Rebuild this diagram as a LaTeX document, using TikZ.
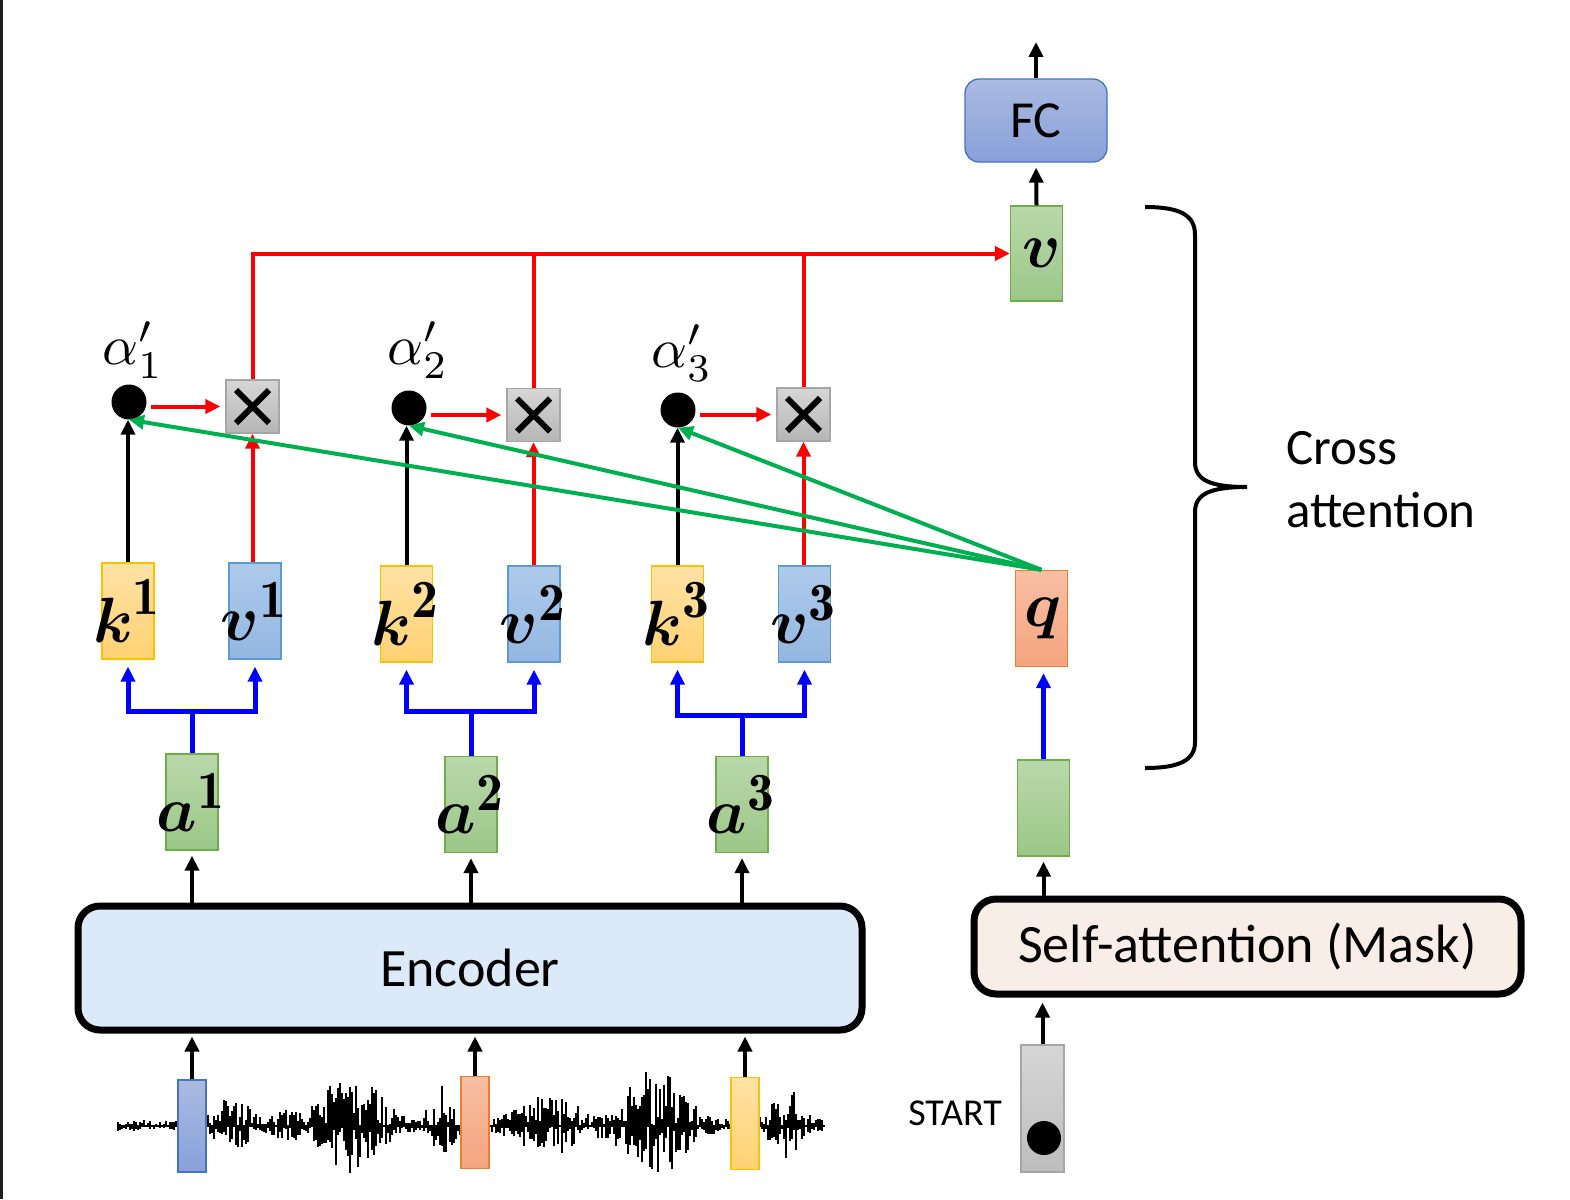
\documentclass[tikz,border=0pt]{standalone}
\usepackage{amsmath}
\usepackage{graphicx}
\usepackage{fontspec}
\newfontfamily\carl{Carlito}
\usetikzlibrary{arrows.meta,calc}
\definecolor{kTop}{HTML}{FFE2A6}\definecolor{kBot}{HTML}{FFD272}\definecolor{kBrd}{HTML}{FFC000}
\definecolor{vTop}{HTML}{AECAEB}\definecolor{vBot}{HTML}{93B7E2}\definecolor{vBrd}{HTML}{5B9BD5}
\definecolor{gTop}{HTML}{B9D8AA}\definecolor{gBot}{HTML}{9CC788}\definecolor{gBrd}{HTML}{70AD47}
\definecolor{qTop}{HTML}{F8BFA3}\definecolor{qBot}{HTML}{F4A47F}\definecolor{qBrd}{HTML}{ED7D31}
\definecolor{xTop}{HTML}{D6D6D6}\definecolor{xBot}{HTML}{B6B6B6}\definecolor{xBrd}{HTML}{A6A6A6}
\definecolor{fTop}{HTML}{AABAE2}\definecolor{fBot}{HTML}{89A0D8}\definecolor{fBrd}{HTML}{4472C4}
\definecolor{encFill}{HTML}{DCE9F8}\definecolor{saFill}{HTML}{F8EDE7}
\definecolor{grn}{HTML}{00B050}\definecolor{rd}{HTML}{FF0000}\definecolor{bl}{HTML}{0000FF}
\newcommand\mlab[2]{\makebox[0pt]{\scalebox{6.4}{$\boldsymbol{#1}^{\scalebox{1.2}{$\scriptstyle\mathbf{#2}$}}$}}}
\newcommand\alab[1]{\scalebox{5.6}{$\alpha'_{#1}$}}
\begin{document}
\begin{tikzpicture}[x=1pt,y=-1pt,
  declare function={gs(\t,\c,\w)=exp(-min(((\t-\c)/\w)*((\t-\c)/\w),40));},
  >={Triangle[length=15pt,width=14pt]},
  vec/.style={rectangle,draw,line width=1.3pt,inner sep=0pt,minimum width=52pt,minimum height=96pt},
  kbox/.style={vec,draw=kBrd,top color=kTop,bottom color=kBot},
  vbox/.style={vec,draw=vBrd,top color=vTop,bottom color=vBot},
  gbox/.style={vec,draw=gBrd,top color=gTop,bottom color=gBot},
  qbox/.style={vec,draw=qBrd,top color=qTop,bottom color=qBot},
  xbox/.style={rectangle,draw=xBrd,line width=1.3pt,top color=xTop,bottom color=xBot,minimum size=53pt,inner sep=0pt,
     path picture={\draw[line width=6pt,black]
        ([shift={(10pt,-10pt)}]path picture bounding box.north west) -- ([shift={(-10pt,10pt)}]path picture bounding box.south east)
        ([shift={(-10pt,-10pt)}]path picture bounding box.north east) -- ([shift={(10pt,10pt)}]path picture bounding box.south west);}},
  dotn/.style={circle,fill=black,minimum size=35pt,inner sep=0pt},
  alabn/.style={inner sep=0pt},
  bigbox/.style={rectangle,draw=black,line width=7pt,rounded corners=22pt,inner sep=0pt,font=\carl\fontsize{54}{60}\selectfont},
  barn/.style={rectangle,line width=1.3pt,inner sep=0pt,minimum width=28pt,minimum height=92pt},
  blk/.style={->,line width=4pt,black},
  rdar/.style={->,line width=4pt,rd},
  rdl/.style={line width=4pt,rd},
  blar/.style={->,line width=5pt,bl},
  grar/.style={->,line width=4pt,grn}]
\useasboundingbox (0,0) rectangle (1570,1199);
\fill[white] (0,0) rectangle (1570,1199);
\fill[black!88] (0,0) rectangle (3,1199);

% waveform
\pgfmathsetseed{11}
\draw[line width=2.5pt] (117,1126) -- (825,1126);
\foreach \x in {118,120,...,822}{
  \pgfmathsetmacro\env{6+24*gs(\x,232,22)+14*gs(\x,285,14)+54*gs(\x,352,34)+36*gs(\x,443,15)+30*gs(\x,548,34)+56*gs(\x,655,36)+34*gs(\x,786,18)}
  \pgfmathsetmacro\up{\env*rnd}
  \pgfmathsetmacro\dn{\env*rnd*0.85}
  \draw[line width=2pt] (\x,{1126-\up}) -- (\x,{1126+\dn});
}

% input bars
\node[barn,draw=fBrd,top color=fTop,bottom color=fBot] (b1) at (192,1126) {};
\node[barn,draw=qBrd,top color=qTop,bottom color=qBot] (b2) at (475,1122.5) {};
\node[barn,draw=kBrd,top color=kTop,bottom color=kBot] (b3) at (745,1123.5) {};

% encoder and decoder blocks
\node[bigbox,fill=encFill,minimum width=784pt,minimum height=124pt] (enc) at (470,968) {Encoder};
\node[bigbox,fill=saFill,minimum width=547pt,minimum height=95pt] (sa) at (1247.5,946.5) {Self-attention (Mask)};
\node[rectangle,draw=xBrd,line width=1.3pt,top color=xTop,bottom color=xBot!90,minimum width=43pt,minimum height=127pt,inner sep=0pt] (st) at (1042.5,1108.5) {};
\node[dotn,minimum size=34pt] (stdot) at (1044,1138) {};
\node[inner sep=0pt,font=\carl\fontsize{38}{40}\selectfont] (sttxt) at (955,1113) {START};

% encoder outputs
\node[gbox] (a1) at (192,802) {\mlab{a}{1}};
\node[gbox] (a2) at (471,804.5) {\mlab{a}{2}};
\node[gbox] (a3) at (742,804.5) {\mlab{a}{3}};
\node[gbox] (g) at (1043.5,808) {};

% keys, values, query
\node[kbox] (k1) at (128,611) {\mlab{k}{1}};
\node[vbox] (v1) at (255,611) {\mlab{v}{1}};
\node[kbox] (k2) at (406.5,614) {\mlab{k}{2}};
\node[vbox] (v2) at (534,614) {\mlab{v}{2}};
\node[kbox] (k3) at (677.5,614) {\mlab{k}{3}};
\node[vbox] (v3) at (804.5,614) {\mlab{v}{3}};
\node[qbox] (q) at (1041.5,618.5) {\makebox[0pt]{\hspace{4pt}\scalebox{6.4}{$\boldsymbol{q}$}}};

% attention scores
\node[dotn] (d1) at (129,402) {};
\node[dotn] (d2) at (409,408) {};
\node[dotn] (d3) at (678,410) {};
\node[alabn] (l1) at (133,350) {\alab{1}};
\node[alabn] (l2) at (418,350) {\alab{2}};
\node[alabn] (l3) at (682,353) {\alab{3}};
\node[xbox] (x1) at (252.5,406.5) {};
\node[xbox] (x2) at (533.5,415) {};
\node[xbox] (x3) at (803.5,414.5) {};

% output
\node[gbox,minimum height=95pt] (vo) at (1036.5,253.5) {\makebox[0pt]{\hspace{10pt}\scalebox{6.4}{$\boldsymbol{v}$}}};
\node[rectangle,draw=fBrd,line width=1.3pt,top color=fTop,bottom color=fBot,rounded corners=14pt,minimum width=142pt,minimum height=83pt,inner sep=0pt,font=\carl\fontsize{52}{56}\selectfont] (fc) at (1036,120.5) {FC};
\coordinate (out) at (1036,42);

% brace and label
\draw[line width=4pt] (1145,207) .. controls (1180,207) and (1195,215) .. (1195,235) -- (1195,462)
   .. controls (1195,480) and (1210,487) .. (1247,487)
   .. controls (1210,487) and (1195,494) .. (1195,512) -- (1195,742)
   .. controls (1195,760) and (1180,768) .. (1145,768);
\node[anchor=west,align=left,inner sep=0pt,font=\carl\fontsize{51}{63}\selectfont] (ca) at (1286,480) {Cross\\attention};

% connectors: bottom
\draw[blk,shorten >=3pt] (b1.north) -- (b1.north |- enc.south);
\draw[blk,shorten >=3pt] (b2.north) -- (b2.north |- enc.south);
\draw[blk,shorten >=3pt] (b3.north) -- (b3.north |- enc.south);
\draw[blk,shorten >=5pt] (a1.south |- enc.north) -- (a1.south);
\draw[blk,shorten >=5pt] (a2.south |- enc.north) -- (a2.south);
\draw[blk,shorten >=5pt] (a3.south |- enc.north) -- (a3.south);
\draw[blk,shorten >=5pt] (st.north) -- (st.north |- sa.south);
\draw[blk,shorten >=5pt] (g.south |- sa.north) -- (g.south);

% forks
\coordinate (f1) at (194,711);
\coordinate (f2) at (471,711);
\coordinate (f3) at (742,715);
\draw[blar,shorten >=7pt] (a1.north) -- (a1.north |- f1) -| (k1.south);
\draw[blar,shorten >=7pt] (a1.north) -- (a1.north |- f1) -| (v1.south);
\draw[blar,shorten >=7pt] (a2.north) -- (a2.north |- f2) -| (k2.south);
\draw[blar,shorten >=7pt] (a2.north) -- (a2.north |- f2) -| (v2.south);
\draw[blar,shorten >=7pt] (a3.north) -- (a3.north |- f3) -| (k3.south);
\draw[blar,shorten >=7pt] (a3.north) -- (a3.north |- f3) -| (v3.south);
\draw[blar,shorten >=6pt] (g.north) -- (g.north |- q.south);

% keys to scores, values to products
\draw[blk] (k1.north) -- (k1.north |- d1.south);
\draw[blk] (k2.north) -- (k2.north |- d2.south);
\draw[blk] (k3.north) -- (k3.north |- d3.south);
\draw[rdar] (v1.north -| x1) -- (x1.south);
\draw[rdar] (v2.north -| x2) -- (x2.south);
\draw[rdar] (v3.north -| x3) -- (x3.south);
\draw[rdar,shorten <=4pt,shorten >=5pt] (d1.east |- x1) -- (x1.west);
\draw[rdar,shorten <=4pt,shorten >=5pt] (d2.east |- x2) -- (x2.west);
\draw[rdar,shorten <=4pt,shorten >=5pt] (d3.east |- x3) -- (x3.west);

% weighted sum
\draw[rdl] (x2.north) -- (x2.north |- vo.west);
\draw[rdl] (x3.north) -- (x3.north |- vo.west);
\draw[rdar] (x1.north) |- (vo.west);
\draw[blk,shorten >=5pt] (vo.north) -- (fc.south);
\draw[blk] (fc.north) -- (out);

% query to keys
\draw[grar] (q.north) -- (d1.south);
\draw[grar] (q.north) -- (d2.south);
\draw[grar] (q.north) -- (d3.south);
\end{tikzpicture}
\end{document}
